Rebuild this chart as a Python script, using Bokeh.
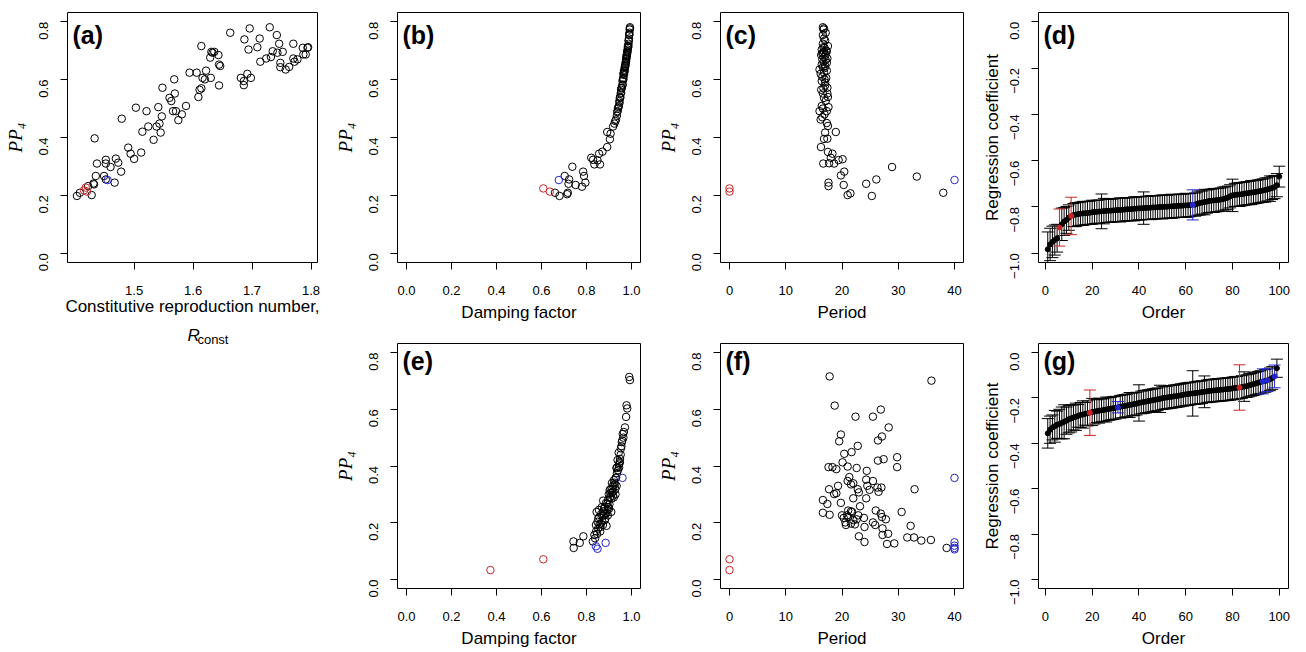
import math
from bokeh.plotting import figure
from bokeh.models import (FixedTicker, CustomJSTickFormatter, Label, Whisker, TeeHead,
                          ColumnDataSource, Range1d)
from bokeh.layouts import row, column
from bokeh.embed import file_html
from bokeh.resources import INLINE

SANS = "Liberation Sans"
SERIF = "Liberation Serif"
RED = "#cc2424"
BLUE = "#2424cc"

# ---------------- data ----------------
# (a) R_const vs PP4
a_x = [1.403, 1.408, 1.422, 1.428, 1.431, 1.433, 1.435, 1.437, 1.432, 1.449,
       1.452, 1.452, 1.460, 1.467, 1.469, 1.473, 1.478, 1.479, 1.490, 1.494,
       1.500, 1.503, 1.512, 1.514, 1.521, 1.524, 1.533, 1.538, 1.541, 1.543,
       1.545, 1.547, 1.548, 1.560, 1.563, 1.566, 1.568, 1.569, 1.571, 1.575,
       1.581, 1.588, 1.594, 1.606, 1.609, 1.611, 1.614, 1.614, 1.616, 1.622,
       1.620, 1.629, 1.631, 1.633, 1.636, 1.630, 1.643, 1.644, 1.646, 1.644,
       1.663, 1.681, 1.686, 1.686, 1.692, 1.698, 1.687, 1.694, 1.696, 1.709,
       1.713, 1.714, 1.724, 1.730, 1.732, 1.735, 1.742, 1.743, 1.746, 1.748,
       1.748, 1.752, 1.757, 1.763, 1.770, 1.770, 1.772, 1.777, 1.786, 1.787,
       1.791, 1.794, 1.795, 1.452]
a_y = [0.198, 0.209, 0.232, 0.201, 0.241, 0.397, 0.267, 0.310, 0.238, 0.267,
       0.310, 0.323, 0.298, 0.244, 0.327, 0.313, 0.282, 0.465, 0.365, 0.344,
       0.326, 0.503, 0.348, 0.420, 0.491, 0.438, 0.392, 0.438, 0.505, 0.448,
       0.417, 0.473, 0.572, 0.537, 0.526, 0.491, 0.601, 0.552, 0.491, 0.460,
       0.480, 0.509, 0.624, 0.624, 0.540, 0.565, 0.570, 0.716, 0.606, 0.631,
       0.601, 0.676, 0.696, 0.693, 0.696, 0.606, 0.685, 0.652, 0.647, 0.580,
       0.762, 0.606, 0.595, 0.581, 0.620, 0.606, 0.739, 0.704, 0.777, 0.712,
       0.742, 0.662, 0.673, 0.781, 0.678, 0.698, 0.754, 0.693, 0.724, 0.658,
       0.643, 0.696, 0.635, 0.644, 0.724, 0.673, 0.662, 0.670, 0.710, 0.687,
       0.687, 0.710, 0.712, 0.255]
a_red_x = [1.415, 1.418, 1.420]
a_red_y = [0.217, 0.227, 0.213]
a_blue_x = [1.455]
a_blue_y = [0.253]

# (b) damping factor vs PP4
b_x = [0.660, 0.680, 0.703, 0.714, 0.717, 0.723, 0.720, 0.737, 0.752, 0.780,
       0.785, 0.789, 0.795, 0.821, 0.829, 0.835, 0.849, 0.856, 0.860, 0.871,
       0.892, 0.892, 0.904, 0.907, 0.918, 0.924, 0.928, 0.931, 0.935, 0.937,
       0.938, 0.940, 0.942, 0.944, 0.946, 0.948, 0.950, 0.952, 0.954, 0.955,
       0.957, 0.959, 0.960, 0.962, 0.963, 0.964, 0.966, 0.967, 0.969, 0.970,
       0.971, 0.973, 0.974, 0.975, 0.976, 0.977, 0.978, 0.979, 0.980, 0.981,
       0.982, 0.983, 0.984, 0.985, 0.986, 0.987, 0.988, 0.989, 0.990, 0.991,
       0.992, 0.993, 0.993, 0.961, 0.964, 0.967, 0.970, 0.973, 0.976, 0.978,
       0.981, 0.984, 0.987, 0.990, 0.947, 0.950, 0.954]
b_y = [0.209, 0.198, 0.267, 0.204, 0.209, 0.255, 0.240, 0.299, 0.236, 0.230,
       0.282, 0.267, 0.244, 0.330, 0.323, 0.307, 0.321, 0.344, 0.307, 0.351,
       0.367, 0.419, 0.394, 0.413, 0.438, 0.448, 0.457, 0.462, 0.475, 0.488,
       0.491, 0.500, 0.505, 0.509, 0.526, 0.537, 0.540, 0.552, 0.565, 0.570,
       0.572, 0.580, 0.595, 0.601, 0.606, 0.620, 0.624, 0.631, 0.635, 0.643,
       0.647, 0.652, 0.658, 0.662, 0.670, 0.673, 0.678, 0.685, 0.687, 0.693,
       0.696, 0.704, 0.710, 0.712, 0.716, 0.724, 0.735, 0.742, 0.754, 0.762,
       0.773, 0.777, 0.781, 0.583, 0.601, 0.616, 0.629, 0.647, 0.664, 0.681,
       0.698, 0.716, 0.735, 0.756, 0.520, 0.537, 0.555]
b_red_x = [0.608, 0.637]
b_red_y = [0.224, 0.213]
b_blue_x = [0.677]
b_blue_y = [0.253]

# (c) period vs PP4
c_x = [16.26, 16.67, 17.0, 17.4, 17.5, 17.6, 17.6, 17.7, 18.0, 18.3,
       18.6, 18.9, 19.4, 19.8, 20.1, 20.4, 20.3, 21.0, 21.5, 24.3,
       25.3, 26.1, 28.9, 33.3, 38.0, 16.2, 16.5, 16.9, 17.3, 16.0,
       17.6, 16.4, 17.1, 16.8, 17.5, 16.6, 17.4, 16.3, 17.4, 16.7,
       17.0, 16.4, 16.9, 17.2, 16.2, 16.8, 17.3, 16.0, 16.6, 17.0,
       16.4, 17.3, 16.7, 16.5, 17.4, 16.9, 16.3, 17.1, 16.6, 16.8,
       17.3, 16.4, 16.9, 16.7, 17.5, 16.6, 17.0, 16.8, 16.6, 17.1,
       16.7, 16.8, 16.6, 17.2, 16.5, 17.1, 16.9, 16.5, 17.0, 16.6,
       17.3, 17.5, 16.8]
c_y = [0.367, 0.310, 0.417, 0.396, 0.350, 0.244, 0.232, 0.311, 0.330, 0.344,
       0.310, 0.419, 0.322, 0.269, 0.325, 0.282, 0.236, 0.201, 0.207, 0.240,
       0.198, 0.255, 0.298, 0.265, 0.209, 0.462, 0.470, 0.480, 0.491, 0.491,
       0.505, 0.509, 0.526, 0.537, 0.540, 0.552, 0.552, 0.565, 0.572, 0.570,
       0.580, 0.595, 0.601, 0.606, 0.620, 0.624, 0.631, 0.635, 0.643, 0.647,
       0.652, 0.658, 0.662, 0.670, 0.673, 0.678, 0.685, 0.687, 0.693, 0.696,
       0.698, 0.704, 0.710, 0.712, 0.716, 0.724, 0.735, 0.742, 0.754, 0.762,
       0.773, 0.777, 0.781, 0.700, 0.690, 0.668, 0.640, 0.610, 0.590, 0.500,
       0.450, 0.440, 0.395]
c_red_x = [0, 0]
c_red_y = [0.224, 0.213]
c_blue_x = [40]
c_blue_y = [0.253]

# (d) ordered regression coefficients with error bars
d_val = [-0.983, -0.962, -0.951, -0.943, -0.935, -0.889, -0.875, -0.863, -0.856, -0.846,
         -0.839, -0.835, -0.833, -0.831, -0.829, -0.828, -0.827, -0.826, -0.825, -0.823,
         -0.822, -0.821, -0.820, -0.819, -0.818, -0.817, -0.816, -0.816, -0.815, -0.814,
         -0.813, -0.813, -0.812, -0.811, -0.810, -0.810, -0.809, -0.808, -0.807, -0.806,
         -0.806, -0.805, -0.804, -0.804, -0.803, -0.802, -0.802, -0.801, -0.800, -0.800,
         -0.799, -0.799, -0.798, -0.797, -0.797, -0.796, -0.795, -0.795, -0.794, -0.793,
         -0.793, -0.792, -0.791, -0.790, -0.786, -0.783, -0.781, -0.779, -0.777, -0.774,
         -0.773, -0.772, -0.771, -0.770, -0.768, -0.766, -0.763, -0.760, -0.754, -0.750,
         -0.748, -0.747, -0.746, -0.745, -0.743, -0.741, -0.740, -0.738, -0.737, -0.735,
         -0.733, -0.731, -0.729, -0.727, -0.724, -0.721, -0.718, -0.714, -0.706, -0.669]
d_err = [0.075, 0.070, 0.068, 0.065, 0.060, 0.080, 0.070, 0.060, 0.058, 0.055,
         0.081, 0.050, 0.052, 0.050, 0.050, 0.052, 0.050, 0.050, 0.050, 0.052,
         0.050, 0.050, 0.050, 0.075, 0.055, 0.050, 0.050, 0.050, 0.050, 0.050,
         0.050, 0.052, 0.050, 0.050, 0.050, 0.050, 0.050, 0.052, 0.050, 0.050,
         0.050, 0.070, 0.050, 0.050, 0.052, 0.050, 0.050, 0.050, 0.050, 0.052,
         0.050, 0.050, 0.050, 0.052, 0.050, 0.050, 0.050, 0.050, 0.050, 0.052,
         0.050, 0.050, 0.065, 0.050, 0.050, 0.052, 0.050, 0.055, 0.050, 0.050,
         0.050, 0.052, 0.050, 0.050, 0.050, 0.052, 0.050, 0.050, 0.050, 0.070,
         0.050, 0.050, 0.052, 0.050, 0.050, 0.050, 0.050, 0.052, 0.050, 0.050,
         0.050, 0.050, 0.050, 0.052, 0.050, 0.055, 0.050, 0.050, 0.050, 0.045]
d_red = [6, 11]
d_blue = [63]

# (e) damping factor vs PP4
e_x = [0.742, 0.743, 0.770, 0.786, 0.828, 0.835, 0.842, 0.845, 0.849, 0.852,
       0.857, 0.861, 0.864, 0.871, 0.874, 0.878, 0.881, 0.885, 0.889, 0.892,
       0.895, 0.900, 0.904, 0.907, 0.910, 0.914, 0.918, 0.921, 0.924, 0.928,
       0.930, 0.933, 0.935, 0.938, 0.943, 0.947, 0.953, 0.957, 0.961, 0.964,
       0.971, 0.976, 0.978, 0.981, 0.990, 0.993, 0.838, 0.847, 0.852, 0.858,
       0.865, 0.870, 0.875, 0.880, 0.884, 0.887, 0.893, 0.896, 0.899, 0.902,
       0.906, 0.911, 0.915, 0.919, 0.922, 0.926, 0.929, 0.932, 0.936, 0.940,
       0.944, 0.949, 0.952, 0.955, 0.959, 0.966, 0.843, 0.855, 0.862, 0.868,
       0.873, 0.877, 0.890, 0.897, 0.903, 0.913, 0.917, 0.934, 0.945, 0.948]
e_y = [0.134, 0.111, 0.129, 0.152, 0.134, 0.157, 0.192, 0.238, 0.203, 0.180,
       0.220, 0.169, 0.197, 0.226, 0.278, 0.249, 0.209, 0.232, 0.189, 0.267,
       0.226, 0.249, 0.289, 0.318, 0.238, 0.306, 0.330, 0.289, 0.341, 0.318,
       0.358, 0.393, 0.375, 0.421, 0.447, 0.410, 0.462, 0.484, 0.513, 0.500,
       0.536, 0.573, 0.614, 0.603, 0.714, 0.703, 0.145, 0.160, 0.215, 0.195,
       0.230, 0.205, 0.240, 0.255, 0.215, 0.270, 0.245, 0.280, 0.300, 0.265,
       0.305, 0.285, 0.320, 0.310, 0.350, 0.335, 0.300, 0.360, 0.395, 0.385,
       0.405, 0.425, 0.440, 0.470, 0.490, 0.520, 0.170, 0.245, 0.185, 0.255,
       0.192, 0.225, 0.235, 0.255, 0.315, 0.340, 0.295, 0.330, 0.395, 0.415]
e_red_x = [0.373, 0.608]
e_red_y = [0.033, 0.071]
e_blue_x = [0.842, 0.849, 0.885, 0.960]
e_blue_y = [0.117, 0.108, 0.129, 0.358]

# (f) period vs PP4
f_x = [17.8, 18.7, 22.4, 25.5, 26.9, 35.9, 28.3, 19.8, 19.5, 22.8,
       27.1, 26.4, 20.4, 21.7, 20.1, 17.6, 18.3, 19.0, 21.0, 22.6,
       24.4, 26.4, 27.4, 29.8, 29.8, 17.7, 18.6, 19.0, 19.3, 21.0,
       21.3, 21.6, 22.0, 22.8, 23.0, 24.3, 24.5, 24.9, 25.5, 26.3,
       26.5, 27.0, 32.9, 16.6, 17.4, 19.8, 22.0, 23.2, 24.3, 26.0,
       26.9, 27.1, 27.8, 30.6, 16.6, 17.8, 20.3, 20.6, 20.7, 21.1,
       21.6, 21.8, 22.0, 22.3, 22.6, 22.9, 21.6, 23.9, 24.0, 25.5,
       25.9, 27.2, 27.2, 28.2, 32.2, 23.0, 24.0, 28.0, 29.3, 31.6,
       32.8, 34.1, 35.8, 38.6, 21.1, 20.0, 20.9]
f_y = [0.716, 0.613, 0.574, 0.574, 0.599, 0.701, 0.536, 0.511, 0.487, 0.471,
       0.504, 0.490, 0.443, 0.449, 0.413, 0.396, 0.396, 0.389, 0.398, 0.393,
       0.383, 0.419, 0.424, 0.431, 0.396, 0.318, 0.301, 0.304, 0.330, 0.347,
       0.361, 0.335, 0.339, 0.318, 0.307, 0.352, 0.330, 0.316, 0.347, 0.324,
       0.309, 0.324, 0.318, 0.280, 0.266, 0.270, 0.286, 0.258, 0.286, 0.243,
       0.232, 0.220, 0.212, 0.238, 0.235, 0.228, 0.217, 0.201, 0.192, 0.220,
       0.240, 0.238, 0.209, 0.194, 0.212, 0.226, 0.197, 0.217, 0.185, 0.201,
       0.192, 0.180, 0.157, 0.161, 0.189, 0.152, 0.132, 0.125, 0.127, 0.148,
       0.148, 0.137, 0.139, 0.111, 0.243, 0.226, 0.226]
f_red_x = [0, 0]
f_red_y = [0.071, 0.033]
f_blue_x = [40, 40, 40, 40, 40]
f_blue_y = [0.358, 0.131, 0.119, 0.111, 0.106]

# (g) ordered regression coefficients with error bars
g_val = [-0.356, -0.340, -0.330, -0.325, -0.318, -0.315, -0.310, -0.305, -0.300, -0.294,
         -0.290, -0.286, -0.283, -0.279, -0.275, -0.273, -0.270, -0.268, -0.265, -0.262,
         -0.260, -0.258, -0.256, -0.255, -0.253, -0.251, -0.249, -0.247, -0.245, -0.243,
         -0.241, -0.239, -0.237, -0.235, -0.233, -0.231, -0.229, -0.227, -0.225, -0.222,
         -0.220, -0.218, -0.216, -0.214, -0.212, -0.210, -0.208, -0.206, -0.204, -0.201,
         -0.199, -0.198, -0.196, -0.195, -0.193, -0.192, -0.190, -0.188, -0.186, -0.184,
         -0.183, -0.181, -0.180, -0.179, -0.177, -0.176, -0.174, -0.173, -0.171, -0.169,
         -0.168, -0.167, -0.166, -0.165, -0.164, -0.163, -0.162, -0.161, -0.160, -0.158,
         -0.156, -0.155, -0.154, -0.152, -0.150, -0.148, -0.145, -0.142, -0.139, -0.136,
         -0.133, -0.130, -0.127, -0.125, -0.122, -0.118, -0.112, -0.105, -0.069]
g_err = [0.065, 0.060, 0.055, 0.070, 0.060, 0.065, 0.070, 0.075, 0.060, 0.060,
         0.060, 0.055, 0.060, 0.050, 0.055, 0.060, 0.050, 0.055, 0.100, 0.060,
         0.055, 0.050, 0.055, 0.050, 0.050, 0.055, 0.050, 0.050, 0.050, 0.050,
         0.025, 0.050, 0.050, 0.050, 0.050, 0.055, 0.050, 0.050, 0.050, 0.080,
         0.050, 0.050, 0.050, 0.050, 0.050, 0.050, 0.050, 0.050, 0.060, 0.050,
         0.050, 0.050, 0.050, 0.050, 0.050, 0.050, 0.050, 0.050, 0.050, 0.050,
         0.050, 0.050, 0.100, 0.050, 0.050, 0.050, 0.050, 0.070, 0.050, 0.050,
         0.050, 0.050, 0.050, 0.050, 0.050, 0.050, 0.050, 0.050, 0.050, 0.050,
         0.050, 0.050, 0.100, 0.050, 0.065, 0.050, 0.050, 0.050, 0.050, 0.050,
         0.050, 0.050, 0.055, 0.050, 0.050, 0.050, 0.050, 0.050, 0.040]
g_red = [19, 83]
g_blue = [31, 93, 95, 98]

ticks_pp4 = [0.0, 0.2, 0.4, 0.6, 0.8]
ticks_coef = [0.0, -0.2, -0.4, -0.6, -0.8, -1.0]
ticks_r = [1.5, 1.6, 1.7, 1.8]
ticks_damp = [0.0, 0.2, 0.4, 0.6, 0.8, 1.0]
ticks_period = [0, 10, 20, 30, 40]
ticks_order = [0, 20, 40, 60, 80, 100]

FRAME_W = 250
FRAME_H = 250


def fmt(dec):
    return CustomJSTickFormatter(code="return tick.toFixed(%d).replace('-', '\\u2212')" % dec)


def make_fig(xr, yr, xticks, yticks, xdec, ydec, xlabel, ylabel, tag, border_left, border_right,
             border_top, border_bottom, xlabel_standoff=5, serif_ylabel=True):
    p = figure(output_backend="svg", toolbar_location=None,
               width=border_left + FRAME_W + border_right,
               height=border_top + FRAME_H + border_bottom,
               x_range=Range1d(*xr), y_range=Range1d(*yr),
               min_border_left=border_left, min_border_right=border_right,
               min_border_top=border_top, min_border_bottom=border_bottom)
    p.grid.visible = False
    p.outline_line_color = "black"
    p.outline_line_width = 1
    p.outline_line_alpha = 1.0
    p.background_fill_color = "white"
    p.border_fill_color = "white"
    for ax in (p.xaxis[0], p.yaxis[0]):
        ax.axis_line_color = None
        ax.major_tick_out = 7
        ax.major_tick_in = 0
        ax.major_tick_line_color = "black"
        ax.minor_tick_line_color = None
        ax.major_label_text_font = SANS
        ax.major_label_text_font_size = "13px"
        ax.major_label_text_color = "black"
        ax.axis_label_text_font = SANS
        ax.axis_label_text_font_size = "17px"
        ax.axis_label_text_font_style = "normal"
        ax.axis_label_text_color = "black"
    p.xaxis.ticker = FixedTicker(ticks=xticks)
    p.yaxis.ticker = FixedTicker(ticks=yticks)
    p.xaxis.formatter = fmt(xdec)
    p.yaxis.formatter = fmt(ydec)
    p.xaxis.major_label_standoff = 16
    p.yaxis.major_label_standoff = 17
    p.yaxis.major_label_orientation = math.pi / 2
    p.xaxis.axis_label = xlabel
    p.xaxis.axis_label_standoff = xlabel_standoff
    p.yaxis.axis_label = ylabel
    if serif_ylabel:
        p.yaxis.axis_label_text_font = SERIF
        p.yaxis.axis_label_text_font_style = "italic"
        p.yaxis.axis_label_text_font_size = "19px"
        p.yaxis.axis_label_standoff = 6
    else:
        p.yaxis.axis_label_standoff = 1
    p.add_layout(Label(x=5, y=FRAME_H - 8, x_units="screen", y_units="screen", text=tag,
                       text_font=SANS, text_font_style="bold", text_font_size="25px",
                       text_baseline="top", text_color="black"))
    return p


def scatter_panel(p, x, y, rx, ry, bx, by):
    p.scatter(x, y, marker="circle", size=7.5, fill_color=None, line_color="black", line_width=1)
    p.scatter(rx, ry, marker="circle", size=7.5, fill_color=None, line_color=RED, line_width=1)
    p.scatter(bx, by, marker="circle", size=7.5, fill_color=None, line_color=BLUE, line_width=1)


def coef_panel(p, vals, errs, red_idx, blue_idx):
    order = list(range(1, len(vals) + 1))
    groups = {"black": [], RED: [], BLUE: []}
    for i, o in enumerate(order):
        c = RED if o in red_idx else (BLUE if o in blue_idx else "black")
        groups[c].append(i)
    for c in ("black", RED, BLUE):
        idx = groups[c]
        src = ColumnDataSource(dict(
            x=[order[i] for i in idx],
            lo=[vals[i] - errs[i] for i in idx],
            hi=[vals[i] + errs[i] for i in idx]))
        w = Whisker(source=src, base="x", lower="lo", upper="hi", line_color=c, line_width=1,
                    upper_head=TeeHead(size=12, line_color=c, line_width=1),
                    lower_head=TeeHead(size=12, line_color=c, line_width=1))
        p.add_layout(w)
    for c in ("black", RED, BLUE):
        idx = groups[c]
        p.scatter([order[i] for i in idx], [vals[i] for i in idx], marker="circle",
                  size=5, color=c)


PP4 = "PP\u2084"
yr_pp = (-0.032, 0.832)
yr_coef = (-1.04, 0.04)

pa = make_fig((1.387, 1.811), yr_pp, ticks_r, ticks_pp4, 1, 1,
              "Constitutive reproduction number,", PP4, "(a)", 67, 14, 12, 60, xlabel_standoff=-1)
scatter_panel(pa, a_x, a_y, a_red_x, a_red_y, a_blue_x, a_blue_y)

# second line of the x-axis label of (a): italic R with subscript "const"
SUB_W, SUB_H = 331, 30
pa_sub = figure(output_backend="svg", toolbar_location=None, width=SUB_W, height=SUB_H,
                min_border_left=0, min_border_right=0, min_border_top=0, min_border_bottom=0,
                x_axis_type=None, y_axis_type=None,
                x_range=Range1d(0, SUB_W), y_range=Range1d(0, SUB_H))
pa_sub.outline_line_color = None
pa_sub.background_fill_color = "white"
pa_sub.border_fill_color = "white"
pa_sub.add_layout(Label(x=159, y=17, text="R",
                        text_font=SANS, text_font_style="italic", text_font_size="17px",
                        text_baseline="alphabetic", text_color="black"))
pa_sub.add_layout(Label(x=172, y=13, text="const",
                        text_font=SANS, text_font_size="13px",
                        text_baseline="alphabetic", text_color="black"))
pa_col = column(pa, pa_sub)

pb = make_fig((-0.04, 1.04), yr_pp, ticks_damp, ticks_pp4, 1, 1,
              "Damping factor", PP4, "(b)", 59, 14, 12, 73)
scatter_panel(pb, b_x, b_y, b_red_x, b_red_y, b_blue_x, b_blue_y)

pc = make_fig((-1.6, 41.6), yr_pp, ticks_period, ticks_pp4, 0, 1,
              "Period", PP4, "(c)", 59, 16, 12, 73)
scatter_panel(pc, c_x, c_y, c_red_x, c_red_y, c_blue_x, c_blue_y)

pd_ = make_fig((-2.96, 103.96), yr_coef, ticks_order, ticks_coef, 0, 1,
               "Order", "Regression coefficient", "(d)", 59, 10, 12, 73, serif_ylabel=False)
coef_panel(pd_, d_val, d_err, d_red, d_blue)

pe = make_fig((-0.04, 1.04), yr_pp, ticks_damp, ticks_pp4, 1, 1,
              "Damping factor", PP4, "(e)", 59, 14, 8, 57)
scatter_panel(pe, e_x, e_y, e_red_x, e_red_y, e_blue_x, e_blue_y)

pf = make_fig((-1.6, 41.6), yr_pp, ticks_period, ticks_pp4, 0, 1,
              "Period", PP4, "(f)", 59, 16, 8, 57)
scatter_panel(pf, f_x, f_y, f_red_x, f_red_y, f_blue_x, f_blue_y)

pg = make_fig((-2.96, 103.96), yr_coef, ticks_order, ticks_coef, 0, 1,
              "Order", "Regression coefficient", "(g)", 59, 10, 8, 57, serif_ylabel=False)
coef_panel(pg, g_val, g_err, g_red, g_blue)

layout = row(pa_col, column(row(pb, pc, pd_), row(pe, pf, pg)))

open("out.html", "w").write(file_html(layout, INLINE))
